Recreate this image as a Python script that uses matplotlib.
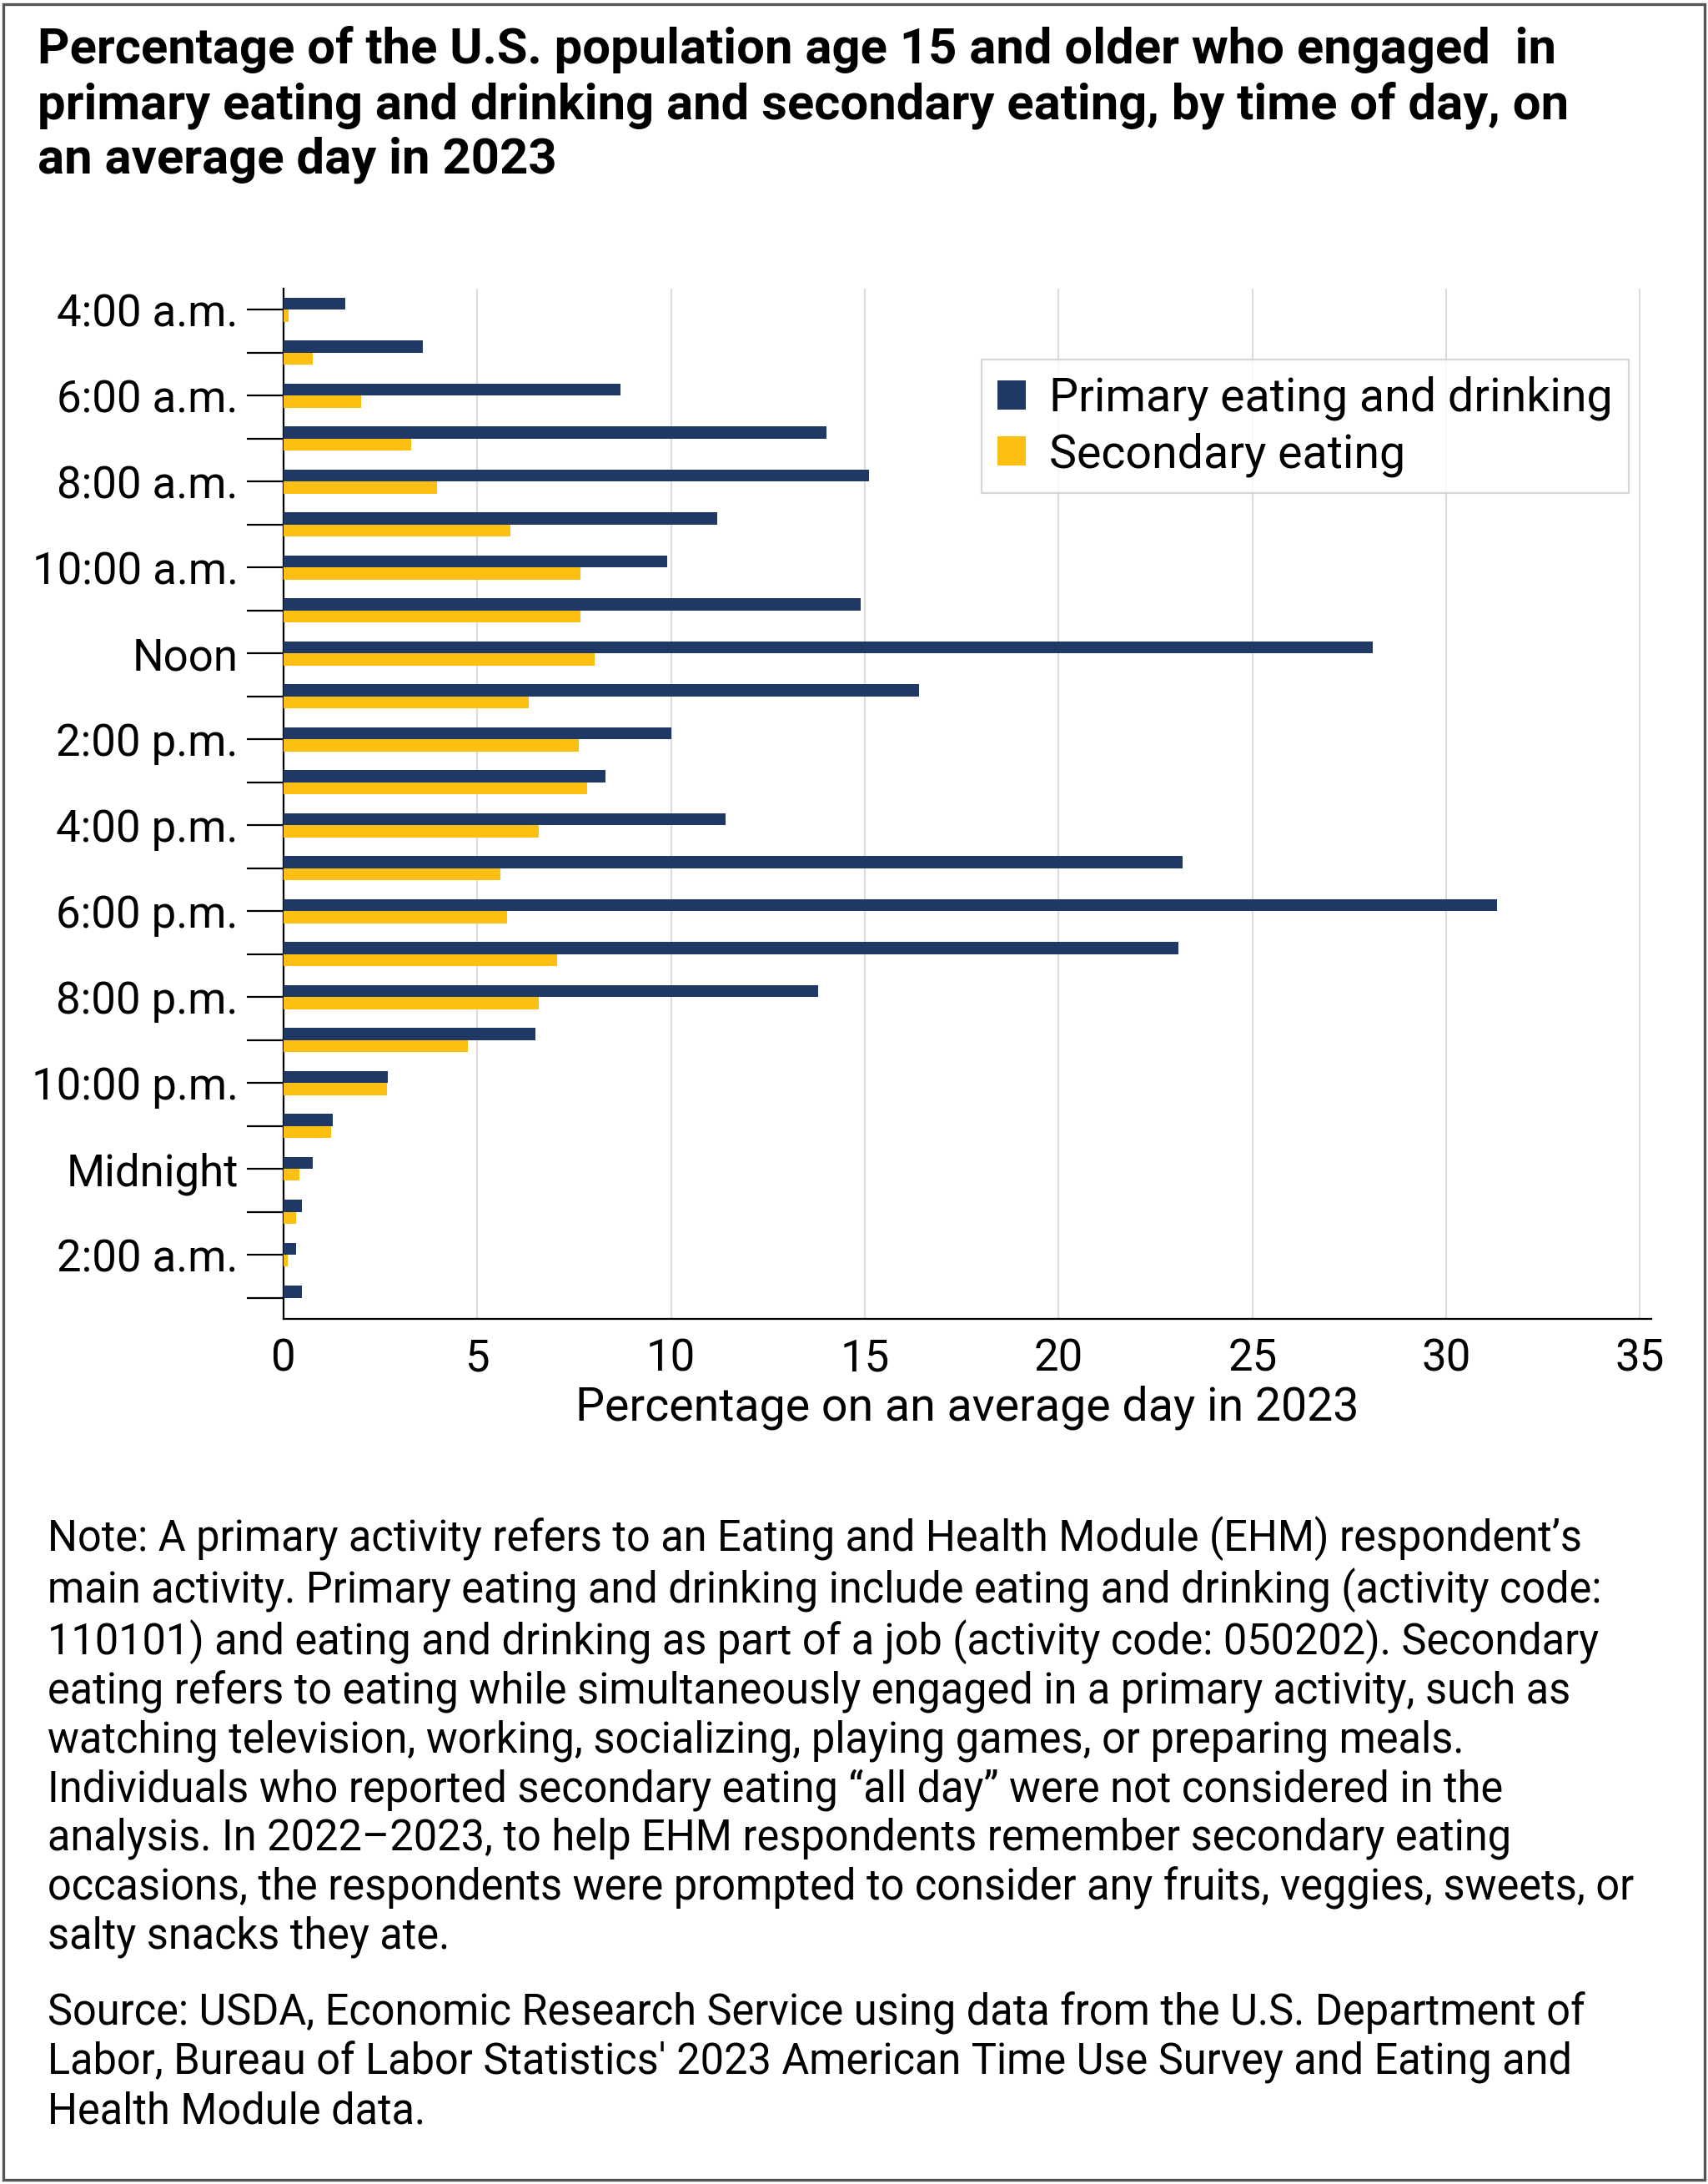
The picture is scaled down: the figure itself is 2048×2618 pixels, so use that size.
import matplotlib
matplotlib.use("Agg")
import matplotlib.pyplot as plt
import numpy as np

hours = ["4:00 a.m.", "", "6:00 a.m.", "", "8:00 a.m.", "", "10:00 a.m.", "", "Noon", "",
         "2:00 p.m.", "", "4:00 p.m.", "", "6:00 p.m.", "", "8:00 p.m.", "", "10:00 p.m.", "",
         "Midnight", "", "2:00 a.m.", ""]
primary = [1.6, 3.6, 8.7, 14.0, 15.1, 11.2, 9.9, 14.9, 28.1, 16.4, 10.0, 8.3, 11.4, 23.2,
           31.3, 23.1, 13.8, 6.5, 2.7, 1.26, 0.75, 0.47, 0.32, 0.47]
secondary = [0.14, 0.75, 2.0, 3.3, 3.95, 5.86, 7.66, 7.66, 8.02, 6.33, 7.62, 7.84, 6.58, 5.6,
             5.76, 7.05, 6.58, 4.75, 2.66, 1.22, 0.4, 0.32, 0.1, 0.0]

plt.rcParams['font.family'] = ['Roboto', 'DejaVu Sans']
fig = plt.figure(figsize=(10.24, 13.09), dpi=200)
ax = fig.add_axes([0.166, 0.396, 0.801, 0.472])

y = np.arange(len(hours))
h = 0.28
ax.barh(y - 0.14, primary, height=h, color="#1f3864", label="Primary eating and drinking", zorder=3)
ax.barh(y + 0.14, secondary, height=h, color="#fdbf11", label="Secondary eating", zorder=3)
ax.set_ylim(len(hours) - 0.5, -0.5)
ax.set_yticks(y)
ax.set_yticklabels(hours, fontsize=19)
ax.tick_params(axis='y', length=16, width=0.8)
ax.set_xlim(0, 35.3)
ax.set_xticks(range(0, 36, 5))
ax.tick_params(axis='x', labelsize=19, length=0, pad=8)
ax.grid(axis='x', color='#dddddd', linewidth=0.8, zorder=0)
for s in ['top', 'right']:
    ax.spines[s].set_visible(False)
ax.spines['left'].set_linewidth(0.8)
ax.spines['bottom'].set_linewidth(0.8)
ax.set_xlabel("Percentage on an average day in 2023", fontsize=20, labelpad=2)
leg = ax.legend(loc='upper right', bbox_to_anchor=(1.0, 0.953), fontsize=20, frameon=True,
                fancybox=False, edgecolor='#cccccc', handlelength=0.6, handleheight=0.6,
                borderpad=0.35, labelspacing=0.25, handletextpad=0.5)
leg.get_frame().set_linewidth(0.8)

fig.text(0.022, 0.988, "Percentage of the U.S. population age 15 and older who engaged  in\n"
         "primary eating and drinking and secondary eating, by time of day, on\n"
         "an average day in 2023", fontsize=21.5, fontweight='bold', va='top', ha='left',
         linespacing=1.2)

note = ("Note: A primary activity refers to an Eating and Health Module (EHM) respondent’s\n"
        "main activity. Primary eating and drinking include eating and drinking (activity code:\n"
        "110101) and eating and drinking as part of a job (activity code: 050202). Secondary\n"
        "eating refers to eating while simultaneously engaged in a primary activity, such as\n"
        "watching television, working, socializing, playing games, or preparing meals.\n"
        "Individuals who reported secondary eating “all day” were not considered in the\n"
        "analysis. In 2022–2023, to help EHM respondents remember secondary eating\n"
        "occasions, the respondents were prompted to consider any fruits, veggies, sweets, or\n"
        "salty snacks they ate.")
fig.text(0.028, 0.306, note, fontsize=18.2, va='top', ha='left', linespacing=1.2)
src = ("Source: USDA, Economic Research Service using data from the U.S. Department of\n"
       "Labor, Bureau of Labor Statistics' 2023 American Time Use Survey and Eating and\n"
       "Health Module data.")
fig.text(0.028, 0.088, src, fontsize=18.2, va='top', ha='left', linespacing=1.2)

fig.add_artist(plt.Rectangle((0.002, 0.002), 0.996, 0.996, transform=fig.transFigure,
                             fill=False, edgecolor='#555555', linewidth=1.2))
fig.savefig("out.png", dpi=200)
